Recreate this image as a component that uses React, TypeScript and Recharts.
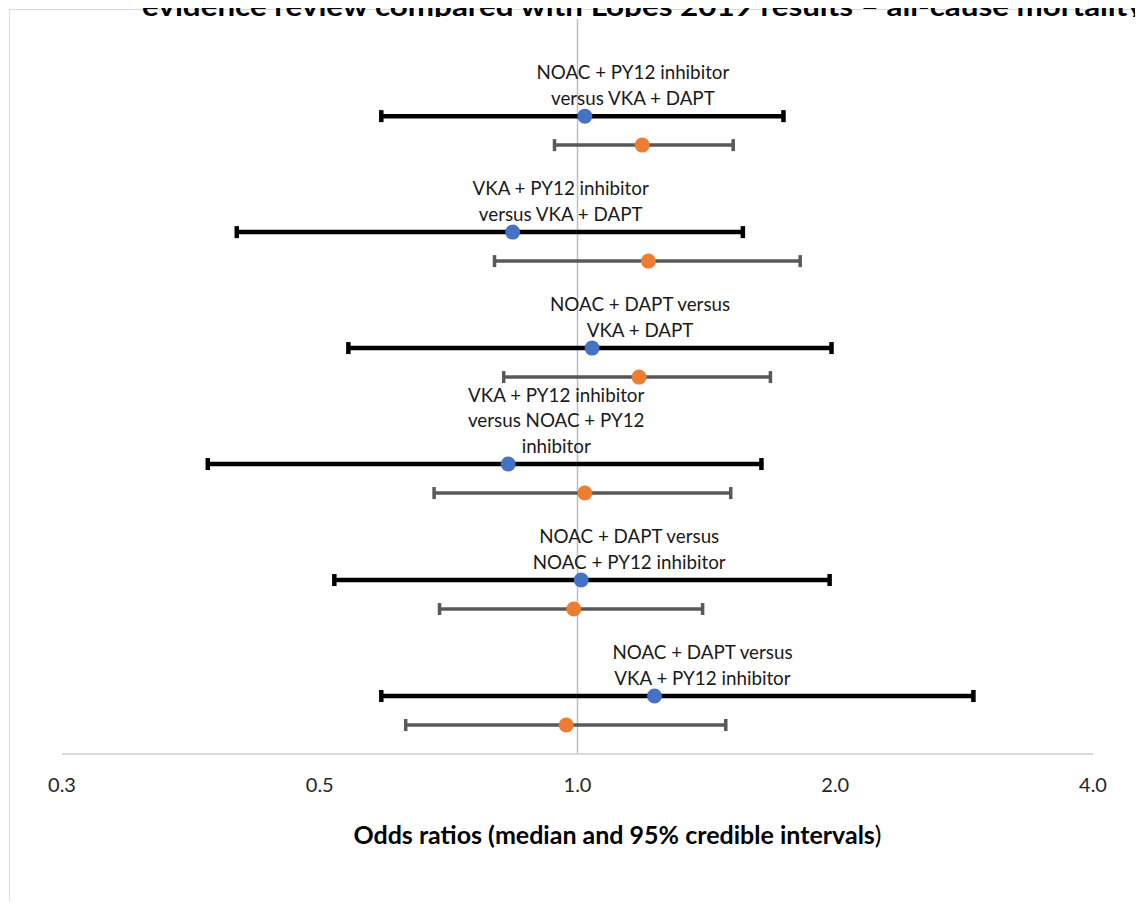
import {
  ScatterChart,
  Scatter,
  XAxis,
  YAxis,
  ErrorBar,
  ReferenceLine,
} from "recharts";

// comparison labels, one entry per row (already wrapped like the original)
const comparisons: string[][] = [
  ["NOAC + PY12 inhibitor", "versus VKA + DAPT"],
  ["VKA + PY12 inhibitor", "versus VKA + DAPT"],
  ["NOAC + DAPT versus", "VKA + DAPT"],
  ["VKA + PY12 inhibitor", "versus NOAC + PY12", "inhibitor"],
  ["NOAC + DAPT versus", "NOAC + PY12 inhibitor"],
  ["NOAC + DAPT versus", "VKA + PY12 inhibitor"],
];

// evidence review NMA (blue / black bars)
const reviewMedian = [1.02, 0.84, 1.04, 0.83, 1.01, 1.23];
const reviewLower = [0.59, 0.4, 0.54, 0.37, 0.52, 0.59];
const reviewUpper = [1.74, 1.56, 1.98, 1.64, 1.97, 2.9];
const reviewRow = [22, 18, 14, 10, 6, 2];

// Lopes 2019 (orange / grey bars)
const lopesMedian = [1.19, 1.21, 1.18, 1.02, 0.99, 0.97];
const lopesLower = [0.94, 0.8, 0.82, 0.68, 0.69, 0.63];
const lopesUpper = [1.52, 1.82, 1.68, 1.51, 1.4, 1.49];
const lopesRow = [21, 17, 13, 9, 5, 1];

const xTicks = [0.25, 0.5, 1, 2, 4];
const Y_MAX = 25.35;

const FONT = "Lato, 'Noto Sans', sans-serif";

const reviewData = reviewMedian.map((m, i) => ({
  x: m,
  y: reviewRow[i],
  err: [m - reviewLower[i], reviewUpper[i] - m],
  lines: comparisons[i],
}));

const lopesData = lopesMedian.map((m, i) => ({
  x: m,
  y: lopesRow[i],
  err: [m - lopesLower[i], lopesUpper[i] - m],
}));

const Dot = (color: string) => (p: any) =>
  <circle cx={p.cx} cy={p.cy} r={7.5} fill={color} />;

const RowLabel = (p: any) => {
  const lines: string[] = p.payload?.lines ?? [];
  const n = lines.length;
  return (
    <g>
      {lines.map((t, i) => (
        <text
          key={i}
          x={p.cx + 48}
          y={p.cy - 19 - (n - 1 - i) * 25.5}
          textAnchor="middle"
          dominantBaseline="central"
          fontFamily={FONT}
          fontSize={18.8}
          fill="#1a1a1a"
        >
          {t}
        </text>
      ))}
    </g>
  );
};

const AxisTitle = (p: any) => {
  const vb = p.viewBox || {};
  return (
    <text
      x={vb.x + vb.width / 2 + 40}
      y={vb.y + 80}
      textAnchor="middle"
      dominantBaseline="central"
      fontFamily={FONT}
      fontSize={25}
      fontWeight="bold"
      fill="#000"
    >
      Odds ratios (median and 95% credible intervals
      <tspan fontWeight="normal">)</tspan>
    </text>
  );
};

export default function App() {
  return (
    <div
      style={{
        position: "relative",
        margin: "-8px",
        width: 1143,
        height: 909,
        overflow: "hidden",
        background: "#fff",
      }}
    >
      <div
        style={{
          position: "absolute",
          left: 9,
          top: 9,
          width: 1300,
          height: 1100,
          border: "1px solid #d9d9d9",
        }}
      />
      <div style={{ position: "absolute", left: 0, top: 0 }}>
        <ScatterChart
          width={1143}
          height={909}
          margin={{ top: 19, right: 50, bottom: 55, left: 62 }}
        >
          <ReferenceLine x={1} stroke="#bfbfbf" strokeWidth={1.5} />
          <XAxis
            type="number"
            dataKey="x"
            scale="log"
            domain={[0.25, 4]}
            ticks={xTicks}
            allowDataOverflow
            tickFormatter={(v: number) => v.toFixed(1)}
            tickLine={false}
            tickSize={0}
            tickMargin={24}
            height={100}
            axisLine={{ stroke: "#d9d9d9", strokeWidth: 2 }}
            tick={{ fontFamily: FONT, fontSize: 20, fill: "#262626" }}
            label={{ content: AxisTitle }}
          />
          <YAxis type="number" dataKey="y" domain={[0, Y_MAX]} hide />
          <Scatter
            data={lopesData}
            shape={Dot("#ED7D31")}
            isAnimationActive={false}
          >
            <ErrorBar
              dataKey="err"
              direction="x"
              width={6}
              stroke="#595959"
              strokeWidth={3.5}
              isAnimationActive={false}
            />
          </Scatter>
          <Scatter
            data={reviewData}
            shape={RowLabel}
            isAnimationActive={false}
          />
          <Scatter
            data={reviewData}
            shape={Dot("#4472C4")}
            isAnimationActive={false}
          >
            <ErrorBar
              dataKey="err"
              direction="x"
              width={6}
              stroke="#000"
              strokeWidth={4.5}
              isAnimationActive={false}
            />
          </Scatter>
        </ScatterChart>
      </div>
      {/* chart title: only its lower edge shows above the chart area, as in the original */}
      <svg
        width={1143}
        height={17}
        style={{ position: "absolute", left: 0, top: 0 }}
      >
        <text
          x={142}
          y={15.5}
          fontFamily={FONT}
          fontSize={26}
          fontWeight="bold"
          fill="#000"
          textLength={1010}
          lengthAdjust="spacingAndGlyphs"
        >
          evidence review compared with Lopes 2019 results – all-cause mortality)
        </text>
      </svg>
    </div>
  );
}
